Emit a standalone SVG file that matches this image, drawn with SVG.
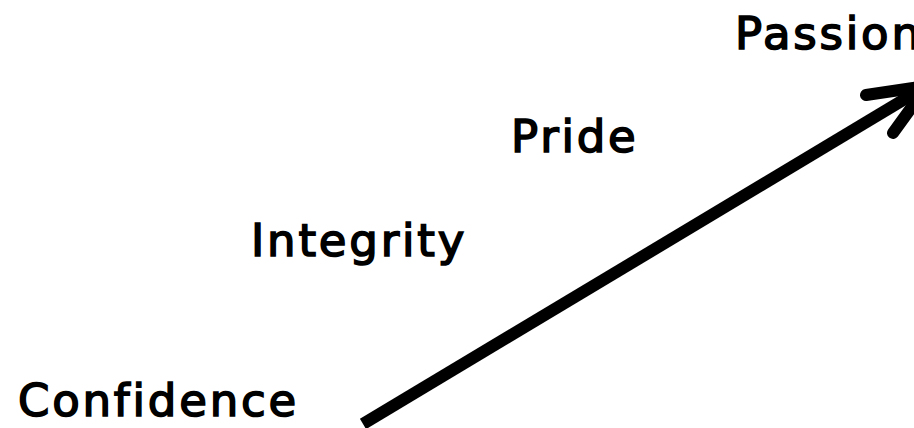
<svg xmlns="http://www.w3.org/2000/svg" width="914" height="428" viewBox="0 0 914 428">
  <style>
    .label { font-family: "DejaVu Sans", "Liberation Sans", sans-serif; font-size: 45px; letter-spacing: 2.8px; fill: #000; stroke: #000; stroke-width: 1.6; }
    .shaft { stroke: #000; stroke-width: 12; fill: none; stroke-linecap: butt; }
    .head { stroke: #000; stroke-width: 12; fill: none; stroke-linecap: round; stroke-linejoin: round; }
  </style>
  <rect width="914" height="428" fill="#fff"/>
  <g id="connectors">
    <line class="shaft" x1="363" y1="424" x2="925" y2="87"/>
    <polyline class="head" points="866,95 927,86 893,133"/>
  </g>
  <g id="node-confidence"><text class="label" x="18" y="416">Confidence</text></g>
  <g id="node-integrity"><text class="label" x="251" y="256">Integrity</text></g>
  <g id="node-pride"><text class="label" x="511" y="152">Pride</text></g>
  <g id="node-passion"><text class="label" x="735" y="49">Passion</text></g>
</svg>
